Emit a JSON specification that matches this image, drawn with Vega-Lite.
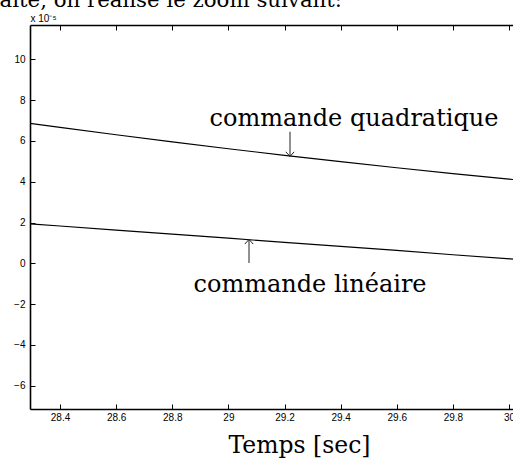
{
  "$schema": "https://vega.github.io/schema/vega-lite/v6.json",
  "autosize": {"type": "none"},
  "padding": {"left": 30, "top": 25, "right": 0, "bottom": 51},
  "width": 483,
  "height": 384,
  "background": "white",
  "config": {
    "view": {"stroke": null},
    "axis": {
      "grid": false,
      "domainColor": "black",
      "domainWidth": 1.6,
      "tickColor": "black",
      "tickWidth": 1,
      "tickSize": -5,
      "labelFont": "Liberation Sans",
      "labelFontSize": 10,
      "labelColor": "black",
      "titleColor": "black",
      "titleFontWeight": "normal"
    }
  },
  "datasets": {
    "curves": [
      {"t": 28.293, "v": 6.863, "serie": "quadratique"},
      {"t": 28.4, "v": 6.664, "serie": "quadratique"},
      {"t": 28.6, "v": 6.301, "serie": "quadratique"},
      {"t": 28.8, "v": 5.952, "serie": "quadratique"},
      {"t": 29.0, "v": 5.616, "serie": "quadratique"},
      {"t": 29.2, "v": 5.292, "serie": "quadratique"},
      {"t": 29.4, "v": 4.982, "serie": "quadratique"},
      {"t": 29.6, "v": 4.684, "serie": "quadratique"},
      {"t": 29.8, "v": 4.399, "serie": "quadratique"},
      {"t": 30.0, "v": 4.128, "serie": "quadratique"},
      {"t": 30.0143, "v": 4.108, "serie": "quadratique"},
      {"t": 28.293, "v": 1.93, "serie": "lineaire"},
      {"t": 28.4, "v": 1.83, "serie": "lineaire"},
      {"t": 28.6, "v": 1.63, "serie": "lineaire"},
      {"t": 28.8, "v": 1.43, "serie": "lineaire"},
      {"t": 29.0, "v": 1.23, "serie": "lineaire"},
      {"t": 29.2, "v": 1.03, "serie": "lineaire"},
      {"t": 29.4, "v": 0.83, "serie": "lineaire"},
      {"t": 29.6, "v": 0.63, "serie": "lineaire"},
      {"t": 29.8, "v": 0.42, "serie": "lineaire"},
      {"t": 30.0143, "v": 0.21, "serie": "lineaire"}
    ],
    "arrows": [
      {"t": 29.2196, "from": 6.45, "tip": 5.24, "dir": "down"},
      {"t": 29.0735, "from": 0.015, "tip": 1.17, "dir": "up"}
    ],
    "labels": [
      {"t": 29.4477, "v": 6.73, "label": "commande quadratique"},
      {"t": 29.291, "v": -1.407, "label": "commande linéaire"}
    ],
    "caption": [
      {"t": 29.405, "v": 12.56, "label": "faite, on réalise le zoom suivant:"}
    ]
  },
  "resolve": {"axis": {"x": "independent", "y": "independent"}},
  "layer": [
    {
      "data": {"name": "curves"},
      "mark": {"type": "line", "color": "black", "strokeWidth": 1.2, "clip": true},
      "encoding": {
        "x": {
          "field": "t", "type": "quantitative",
          "scale": {"domain": [28.293, 30.0143], "nice": false, "zero": false},
          "axis": {
            "orient": "bottom",
            "values": [28.4, 28.6, 28.8, 29.0, 29.2, 29.4, 29.6, 29.8, 30.0],
            "format": "~g",
            "labelPadding": 8,
            "title": "Temps [sec]",
            "titleFont": "DejaVu Serif",
            "titleFontSize": 23.5,
            "titleX": 269,
            "titleY": 43,
            "titleAlign": "center",
            "titleBaseline": "alphabetic"
          }
        },
        "y": {
          "field": "v", "type": "quantitative",
          "scale": {"domain": [-7.14, 11.68], "nice": false, "zero": false},
          "axis": {
            "orient": "left",
            "values": [-6, -4, -2, 0, 2, 4, 6, 8, 10],
            "format": "d",
            "labelPadding": 10,
            "title": "x 10⁻⁵",
            "titleFont": "Liberation Sans",
            "titleFontSize": 10,
            "titleAngle": 0,
            "titleX": 0,
            "titleY": -4,
            "titleAlign": "left",
            "titleBaseline": "alphabetic"
          }
        },
        "detail": {"field": "serie", "type": "nominal"}
      }
    },
    {
      "data": {"name": "arrows"},
      "mark": {"type": "rule", "color": "#222", "strokeWidth": 1},
      "encoding": {
        "x": {
          "field": "t", "type": "quantitative",
          "axis": {
            "orient": "top",
            "values": [28.4, 28.6, 28.8, 29.0, 29.2, 29.4, 29.6, 29.8, 30.0],
            "labels": false,
            "title": null
          }
        },
        "y": {"field": "from", "type": "quantitative", "axis": null},
        "y2": {"field": "tip"}
      }
    },
    {
      "data": {"name": "arrows"},
      "mark": {"type": "point", "filled": false, "color": "#222", "strokeWidth": 1, "size": 70, "opacity": 1},
      "encoding": {
        "x": {"field": "t", "type": "quantitative", "axis": null},
        "y": {"field": "tip", "type": "quantitative", "axis": null},
        "shape": {
          "field": "dir", "type": "nominal", "legend": null,
          "scale": {"domain": ["down", "up"], "range": ["M-1,-1.1L0,0L1,-1.1", "M-1,1.1L0,0L1,1.1"]}
        }
      }
    },
    {
      "data": {"name": "labels"},
      "mark": {"type": "text", "font": "DejaVu Serif", "fontSize": 24, "align": "center", "baseline": "alphabetic", "color": "black"},
      "encoding": {
        "x": {"field": "t", "type": "quantitative", "axis": null},
        "y": {"field": "v", "type": "quantitative", "axis": null},
        "text": {"field": "label", "type": "nominal"}
      }
    },
    {
      "data": {"name": "caption"},
      "mark": {"type": "text", "font": "DejaVu Serif", "fontSize": 21.3, "align": "right", "baseline": "alphabetic", "color": "black", "clip": false},
      "encoding": {
        "x": {"field": "t", "type": "quantitative", "axis": null},
        "y": {"field": "v", "type": "quantitative", "axis": null},
        "text": {"field": "label", "type": "nominal"}
      }
    }
  ]
}
